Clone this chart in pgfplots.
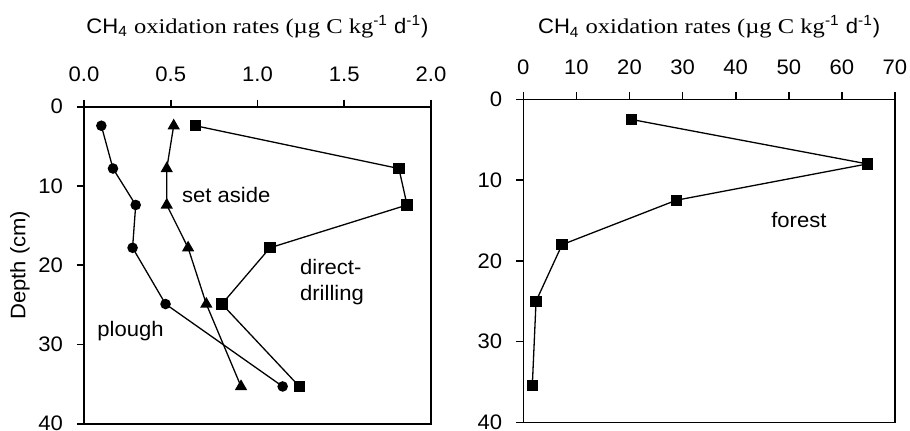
\documentclass[border=0pt]{standalone}
\usepackage{fontspec}
\setmainfont[FakeStretch=1.05]{Liberation Sans}
\newfontfamily\serifpart[FakeStretch=1.17]{Liberation Serif}
\usepackage{pgfplots}
\pgfplotsset{compat=1.18}

\newcommand{\chfont}{\fontsize{10.5}{13}\selectfont}
\newcommand{\ratetitle}{CH\textsubscript{4} {\serifpart oxidation rates (µg C kg}\textsuperscript{-1} d\textsuperscript{-1})}

\pgfplotsset{
  depthaxis/.style={
    scale only axis,
    anchor=north west,
    y dir=reverse,
    ymin=0, ymax=40, ytick={0,10,20,30,40},
    axis line style={line width=0.8pt},
    every tick/.style={line width=0.8pt, black},
    tick align=outside,
    major tick length=3.5pt,
    xtick pos=right, ytick pos=left,
    xticklabel pos=right,
    /pgf/number format/assume math mode=true,
    tick label style={font=\chfont},
    xticklabel style={yshift=5.5pt},
    yticklabel style={xshift=-3.5pt},
    every axis title/.style={at={(axis description cs:0.5,1)}, anchor=center, font=\chfont},
    clip=false,
    every axis plot/.append style={black, line width=0.65pt, mark options={solid, fill=black}},
  }
}

\begin{document}
\begin{tikzpicture}
\useasboundingbox (0,0) rectangle (455pt,-215pt);

% arable soils: plough, set aside, direct drilling
\begin{axis}[depthaxis,
  at={(42pt,-53.35pt)},
  width=173.5pt, height=158.5pt,
  xmin=0, xmax=2, xtick={0,0.5,1,1.5,2},
  xticklabel style={/pgf/number format/fixed, /pgf/number format/fixed zerofill, /pgf/number format/precision=1},
  title={\ratetitle}, title style={yshift=40pt},
  ylabel={Depth (cm)},
  ylabel style={at={(axis description cs:-0.1844,0.5)}, anchor=center, font=\chfont},
]
% plough
\addplot[mark=*, mark size=2.3pt] coordinates {
  (0.10,2.4) (0.167,7.8) (0.298,12.4) (0.28,17.8) (0.47,24.9) (1.145,35.3)};
% set aside
\addplot[mark=triangle*, mark size=2.9pt] coordinates {
  (0.517,2.4) (0.477,7.8) (0.477,12.4) (0.60,17.8) (0.705,24.9) (0.905,35.3)};
% direct drilling
\addplot[mark=square*, mark size=2.5pt] coordinates {
  (0.642,2.4) (1.815,7.8) (1.862,12.4) (1.072,17.8) (0.795,24.9) (1.241,35.3)};

\node[font=\chfont] at (axis cs:0.82,11.2) {set aside};
\node[font=\chfont, align=left, anchor=west] at (axis cs:1.205,22.1) {direct-\\drilling};
\node[font=\chfont] at (axis cs:0.268,28.3) {plough};
\end{axis}

% forest soil
\begin{axis}[depthaxis,
  at={(261.65pt,-49.65pt)},
  width=185.85pt, height=161.5pt,
  xmin=0, xmax=70, xtick={0,10,...,70},
  title={\ratetitle}, title style={yshift=36.15pt},
]
\addplot[mark=square*, mark size=2.5pt] coordinates {
  (20.4,2.5) (64.8,8.0) (28.8,12.5) (7.3,18.0) (2.4,25.0) (1.7,35.4)};

\node[font=\chfont] at (axis cs:51.9,14.9) {forest};
\end{axis}
\end{tikzpicture}
\end{document}
